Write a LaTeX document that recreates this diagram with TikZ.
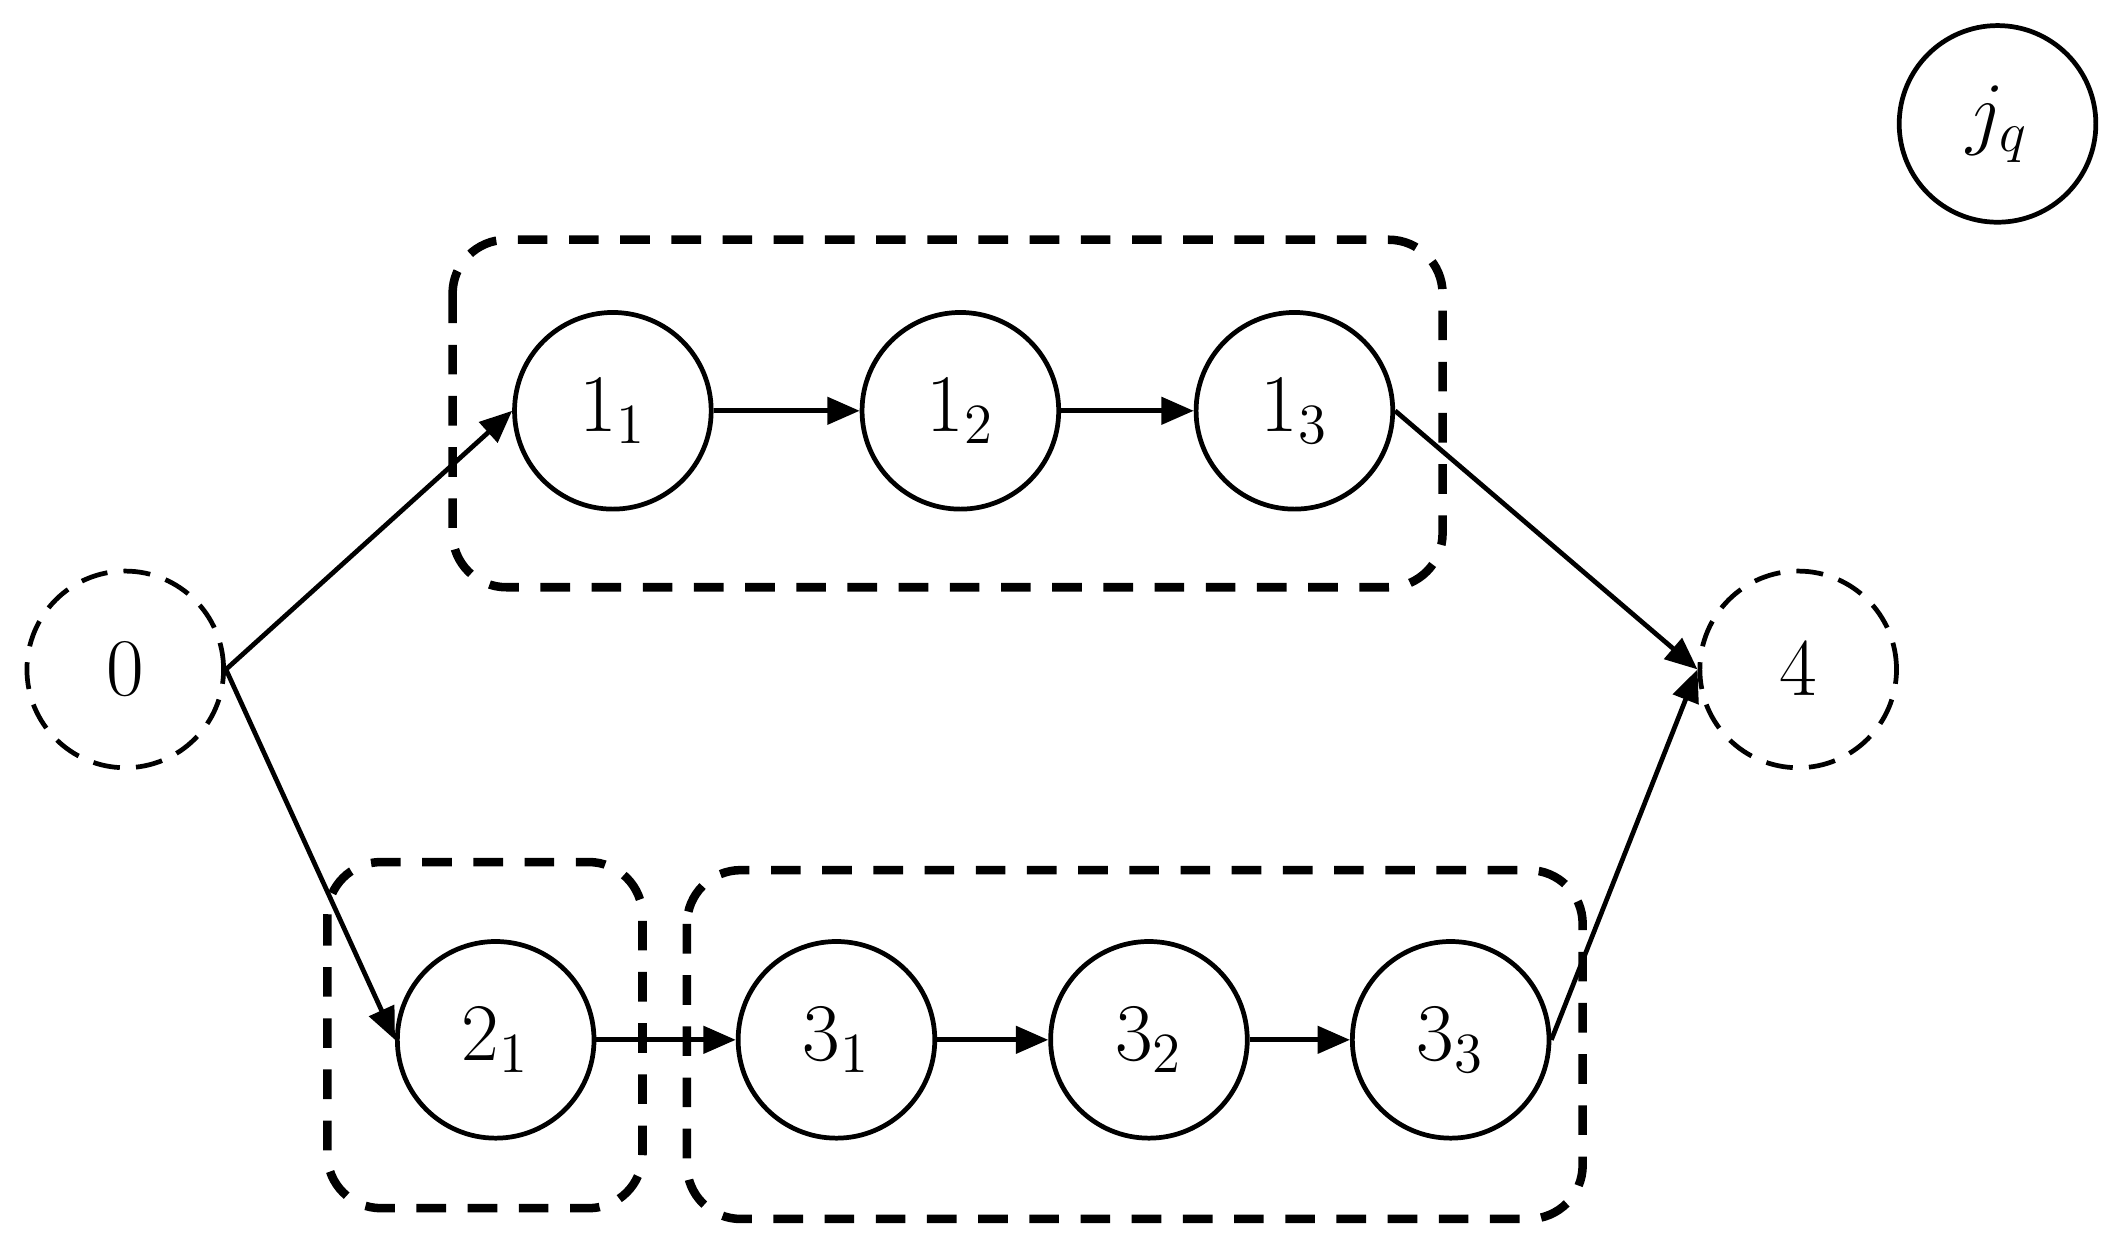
\documentclass[tikz,border=0pt]{standalone}
\usetikzlibrary{arrows.meta}
\begin{document}
\begin{tikzpicture}[
    task/.style={circle, draw, line width=1pt, minimum size=1.46cm, inner sep=0pt,
      font=\fontsize{17}{20}\selectfont},
    dummy/.style={task, dash pattern=on 0.2cm off 0.12cm},
    group/.style={draw, line width=1.8pt, rounded corners=0.4cm, dash pattern=on 0.22cm off 0.16cm}
  ]
  \useasboundingbox (0,0) rectangle (15.68,-9.25);
  \draw
    (0.93,-4.97) node[dummy] (0){$0$}
    (4.55,-3.05) node[task] (11){$1_1$}
    (7.13,-3.05) node[task] (12){$1_2$}
    (9.61,-3.05) node[task] (13){$1_3$}
    (3.68,-7.72) node[task] (21){$2_1$}
    (6.21,-7.72) node[task] (31){$3_1$}
    (8.53,-7.72) node[task] (32){$3_2$}
    (10.77,-7.72) node[task] (33){$3_3$}
    (13.35,-4.97) node[dummy] (4){$4$}
    (14.83,-0.92) node[task] (jq){$j_q$};
  \draw[group] (3.36,-1.78) rectangle (10.71,-4.36);
  \draw[group] (2.43,-6.40) rectangle (4.77,-8.97);
  \draw[group] (5.10,-6.46) rectangle (11.75,-9.05);
  \begin{scope}[line width=1pt, -{Triangle[length=0.24cm,width=0.2cm]}]
    \draw (0.east) to (11.west);
    \draw (0.east) to (21.west);
    \draw (11) to (12);
    \draw (12) to (13);
    \draw (13.east) to (4.west);
    \draw (21) to (31);
    \draw (31) to (32);
    \draw (32) to (33);
    \draw (33.east) to (4.west);
  \end{scope}
\end{tikzpicture}
\end{document}
